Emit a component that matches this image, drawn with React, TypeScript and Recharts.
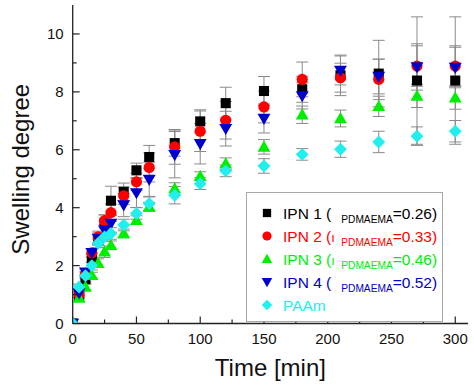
import React from 'react';
import { ScatterChart, Scatter, XAxis, YAxis, ErrorBar, Legend, Label } from 'recharts';

const times = [0, 5, 10, 15, 20, 25, 30, 40, 50, 60, 80, 100, 120, 150, 180, 210, 240, 270, 300];

const ipn1 = [0, 0.98, 1.53, 2.25, 2.9, 3.45, 4.24, 4.55, 5.29, 5.75, 6.23, 6.98, 7.61, 8.03, 8.09, 8.57, 8.63, 8.39, 8.39];
const ipn1Err = [0, 0.1, 0.1, 0.15, 0.2, 0.3, 0.5, 0.3, 0.25, 0.4, 0.45, 0.4, 0.55, 0.5, 0.45, 0.7, 1.15, 2.2, 2.2];

const ipn2 = [0, 1.0, 1.7, 2.44, 2.99, 3.55, 3.83, 4.41, 4.89, 5.39, 6.1, 6.64, 7.02, 7.48, 8.43, 8.49, 8.43, 8.89, 8.89];
const ipn2Err = [0, 0.1, 0.1, 0.15, 0.2, 0.2, 0.3, 0.3, 0.3, 0.5, 0.6, 0.7, 0.65, 0.55, 0.6, 0.5, 0.7, 0.7, 0.7];

const ipn3 = [0, 0.88, 1.26, 1.67, 2.08, 2.48, 2.7, 3.11, 3.57, 4.03, 4.66, 5.09, 5.52, 6.1, 7.21, 7.08, 7.5, 7.86, 7.8];
const ipn3Err = [0, 0.1, 0.1, 0.1, 0.15, 0.2, 0.15, 0.15, 0.15, 0.15, 0.2, 0.15, 0.2, 0.25, 0.3, 0.29, 0.35, 0.4, 0.4];

const ipn4 = [0, 1.05, 1.77, 2.44, 2.93, 3.22, 3.45, 4.09, 4.51, 4.97, 5.83, 6.21, 6.73, 7.08, 7.86, 8.74, 8.53, 8.86, 8.84];
const ipn4Err = [0, 0.1, 0.1, 0.15, 0.2, 0.2, 0.3, 0.4, 0.5, 0.6, 0.8, 0.7, 0.6, 0.5, 0.45, 0.5, 0.6, 0.8, 0.7];

const paam = [0, 1.26, 1.65, 2.0, 2.77, 2.99, 3.11, 3.4, 3.8, 4.14, 4.43, 4.83, 5.27, 5.44, 5.84, 6.02, 6.27, 6.47, 6.64];
const paamErr = [0, 0.1, 0.1, 0.15, 0.15, 0.15, 0.2, 0.2, 0.2, 0.25, 0.3, 0.2, 0.2, 0.25, 0.2, 0.28, 0.37, 0.32, 0.37];

const xTicks = [0, 25, 50, 75, 100, 125, 150, 175, 200, 225, 250, 275, 300];
const yTicks = [0, 1, 2, 3, 4, 5, 6, 7, 8, 9, 10];

type Kind = 'square' | 'circle' | 'triUp' | 'triDown' | 'diamond';

const seriesDefs = [
  { name: 'IPN 1', prefix: 'IPN 1 (', greek: '', fraction: '=0.26)', color: '#000000', kind: 'square' as Kind, values: ipn1, errs: ipn1Err },
  { name: 'IPN 2', prefix: 'IPN 2 (', greek: 'ı', fraction: '=0.33)', color: '#ff0000', kind: 'circle' as Kind, values: ipn2, errs: ipn2Err },
  { name: 'IPN 3', prefix: 'IPN 3 (', greek: 'ı', fraction: '=0.46)', color: '#00ee00', kind: 'triUp' as Kind, values: ipn3, errs: ipn3Err },
  { name: 'IPN 4', prefix: 'IPN 4 (', greek: '', fraction: '=0.52)', color: '#0000cc', kind: 'triDown' as Kind, values: ipn4, errs: ipn4Err },
  { name: 'PAAm', prefix: 'PAAm', greek: '', fraction: '', color: '#22eeee', kind: 'diamond' as Kind, values: paam, errs: paamErr },
];

const FONT = 'Arial, "Liberation Sans", sans-serif';

function markerShape(kind: Kind, color: string, cx: number, cy: number, s: number) {
  if (kind === 'square') {
    return <rect x={cx - s * 0.9} y={cy - s * 0.9} width={s * 1.8} height={s * 1.8} fill={color} />;
  }
  if (kind === 'circle') {
    return <circle cx={cx} cy={cy} r={s} fill={color} />;
  }
  if (kind === 'triUp') {
    return <polygon points={`${cx},${cy - s * 1.15} ${cx - s * 1.15},${cy + s * 0.85} ${cx + s * 1.15},${cy + s * 0.85}`} fill={color} />;
  }
  if (kind === 'triDown') {
    return <polygon points={`${cx - s * 1.15},${cy - s * 0.85} ${cx + s * 1.15},${cy - s * 0.85} ${cx},${cy + s * 1.15}`} fill={color} />;
  }
  return <polygon points={`${cx},${cy - s * 1.15} ${cx + s * 1.15},${cy} ${cx},${cy + s * 1.15} ${cx - s * 1.15},${cy}`} fill={color} />;
}

const XTick = (props: any) => {
  const { x, y, payload } = props;
  const major = payload.value % 50 === 0;
  return (
    <g>
      <line x1={x} y1={y} x2={x} y2={y - (major ? 7 : 4)} stroke="#222" strokeWidth={1.2} />
      {major && (
        <text x={x} y={y + 20} textAnchor="middle" fontSize={15} fontFamily={FONT} fill="#111">
          {payload.value}
        </text>
      )}
    </g>
  );
};

const YTick = (props: any) => {
  const { x, y, payload } = props;
  const major = payload.value % 2 === 0;
  return (
    <g>
      <line x1={x} y1={y} x2={x + (major ? 7 : 4)} y2={y} stroke="#222" strokeWidth={1.2} />
      {major && (
        <text x={x - 9} y={y + 5.5} textAnchor="end" fontSize={15} fontFamily={FONT} fill="#111">
          {payload.value}
        </text>
      )}
    </g>
  );
};

const LegendBox = () => (
  <div
    style={{
      width: '100%',
      height: '100%',
      boxSizing: 'border-box',
      border: '1.5px solid #a8a8a8',
      background: '#fff',
      paddingTop: 9,
      fontFamily: FONT,
      fontSize: 15.5,
      lineHeight: '23px',
      textAlign: 'left',
    }}
  >
    {seriesDefs.map((s) => (
      <div key={s.name} style={{ height: 23, position: 'relative', whiteSpace: 'nowrap', color: s.color }}>
        <svg width={14} height={14} style={{ position: 'absolute', left: 13, top: 4 }}>
          {markerShape(s.kind, s.color, 7, 7, 4.6)}
        </svg>
        <span style={{ position: 'absolute', left: 36 }}>
          {s.prefix}
          {s.fraction && (
            <>
              <span style={{ display: 'inline-block', width: 10, fontSize: 13 }}>{s.greek}</span>
              <span style={{ fontSize: 10.2, position: 'relative', top: 4 }}>PDMAEMA</span>
              {s.fraction}
            </>
          )}
        </span>
      </div>
    ))}
  </div>
);

export default function App() {
  return (
    <div style={{ position: 'absolute', left: 0, top: 0, background: '#fff' }}>
      <ScatterChart width={474} height={385} margin={{ top: 5, right: 6, left: 0, bottom: 0 }}>
        <XAxis
          type="number"
          dataKey="t"
          domain={[0, 310]}
          ticks={xTicks}
          interval={0}
          allowDataOverflow
          height={61.5}
          tickSize={0}
          tickMargin={0}
          tickLine={false}
          tick={<XTick />}
          axisLine={{ stroke: '#222', strokeWidth: 1.3 }}
        >
          <Label
            content={(p: any) => (
              <text
                x={p.viewBox.x + p.viewBox.width / 2}
                y={p.viewBox.y + 52.5}
                textAnchor="middle"
                fontSize={24}
                fontFamily={FONT}
                fill="#111"
              >
                Time [min]
              </text>
            )}
          />
        </XAxis>
        <YAxis
          type="number"
          dataKey="v"
          domain={[0, 11]}
          ticks={yTicks}
          interval={0}
          allowDataOverflow
          width={72.7}
          tickSize={0}
          tickMargin={0}
          tickLine={false}
          tick={<YTick />}
          axisLine={{ stroke: '#222', strokeWidth: 1.3 }}
        >
          <Label
            content={(p: any) => {
              const cx = p.viewBox.x + 28.5;
              const cy = p.viewBox.y + p.viewBox.height / 2 + 5;
              return (
                <text
                  x={cx}
                  y={cy}
                  transform={`rotate(-90, ${cx}, ${cy})`}
                  textAnchor="middle"
                  fontSize={24}
                  fontFamily={FONT}
                  fill="#111"
                >
                  Swelling degree
                </text>
              );
            }}
          />
        </YAxis>
        <Legend
          layout="vertical"
          align="center"
          verticalAlign="middle"
          wrapperStyle={{ left: 246, top: 192, width: 197, height: 130 }}
          content={<LegendBox />}
        />
        {seriesDefs.map((s) => (
          <Scatter
            key={s.name}
            name={s.name}
            data={times.map((t, i) => ({ t, v: s.values[i], err: s.errs[i] }))}
            fill={s.color}
            isAnimationActive={false}
            shape={(p: any) => markerShape(s.kind, s.color, p.cx, p.cy, 5.6)}
          >
            <ErrorBar dataKey="err" direction="y" width={6} stroke="#8a8a8a" strokeWidth={1} />
          </Scatter>
        ))}
      </ScatterChart>
    </div>
  );
}
